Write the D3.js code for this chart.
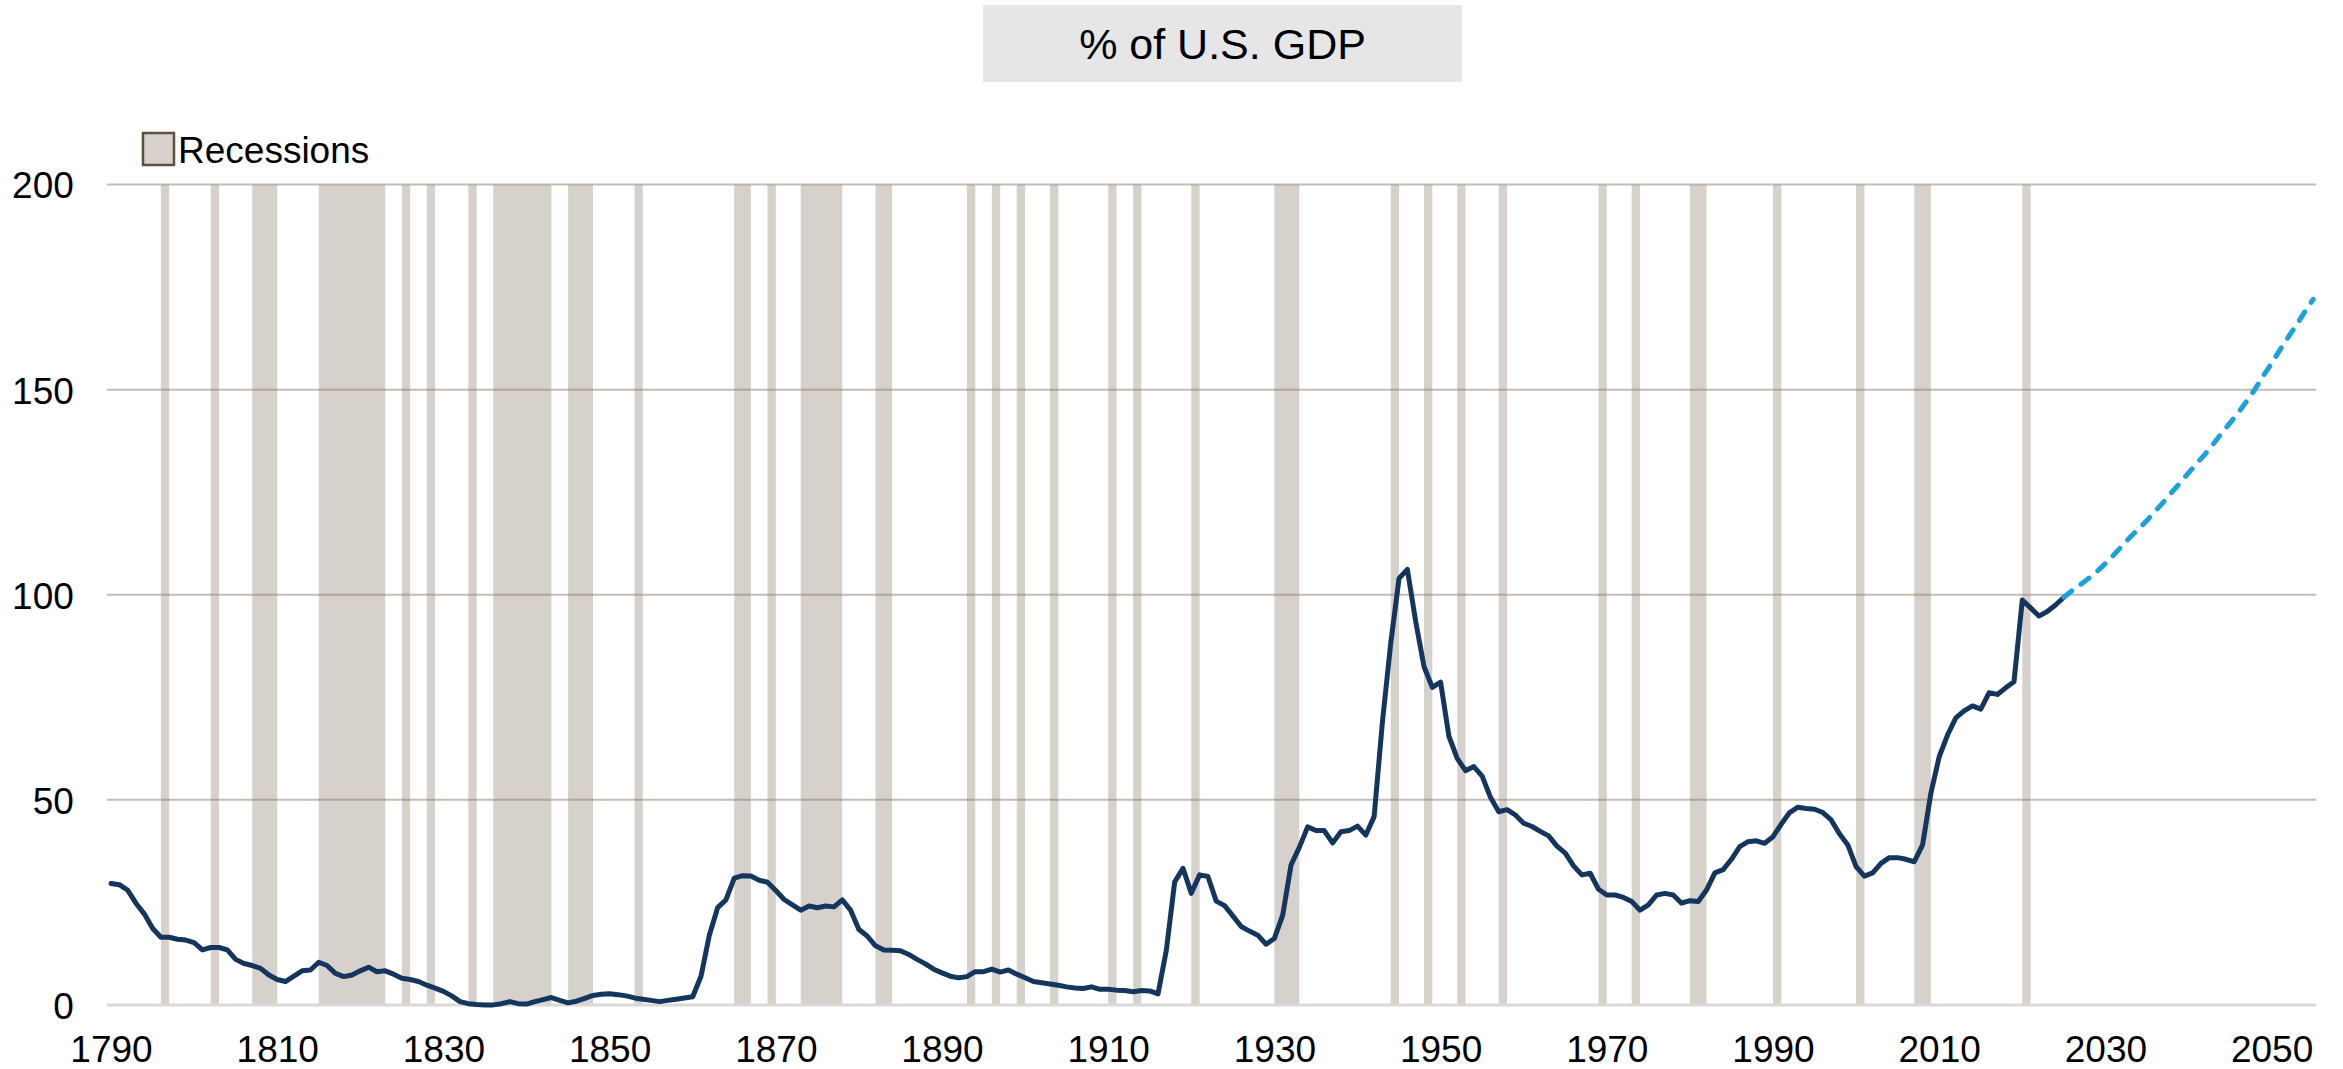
<!DOCTYPE html>
<html>
<head>
<meta charset="utf-8">
<title>% of U.S. GDP</title>
<script src="https://cdn.jsdelivr.net/npm/d3@7"></script>
<style>
  html, body { margin: 0; padding: 0; background: #ffffff; }
  svg { display: block; }
  text { font-family: "Liberation Sans", Arial, Helvetica, sans-serif; fill: #000; }
</style>
</head>
<body>
<svg id="chart" width="2343" height="1069"></svg>
<script>
// Federal debt held by the public, % of GDP (historical, annual)
const histStart = 1790;
const debtHistory = [
  29.6, 29.3, 28.0, 24.8, 22.2, 18.7, 16.5, 16.5, 16.0, 15.8,   // 1790s
  15.2, 13.4, 14.0, 14.0, 13.4, 11.1, 10.1, 9.6, 8.9, 7.3,      // 1800s
  6.2, 5.7, 7.0, 8.3, 8.5, 10.4, 9.6, 7.7, 6.9, 7.3,            // 1810s
  8.3, 9.2, 8.1, 8.3, 7.5, 6.5, 6.2, 5.7, 4.8, 4.1,             // 1820s
  3.3, 2.2, 0.8, 0.3, 0.1, 0.0, 0.0, 0.3, 0.8, 0.3,             // 1830s
  0.2, 0.8, 1.3, 1.8, 1.1, 0.5, 0.9, 1.6, 2.3, 2.6,             // 1840s
  2.7, 2.5, 2.2, 1.7, 1.4, 1.1, 0.8, 1.1, 1.4, 1.7,             // 1850s
  2.0, 7.0, 17.0, 23.7, 25.6, 30.9, 31.5, 31.4, 30.4, 29.9,     // 1860s
  27.9, 25.7, 24.4, 23.1, 24.1, 23.7, 24.1, 23.9, 25.6, 23.1,   // 1870s
  18.4, 16.8, 14.4, 13.4, 13.3, 13.2, 12.3, 11.1, 10.0, 8.7,    // 1880s
  7.8, 7.0, 6.6, 6.9, 8.1, 8.1, 8.7, 8.0, 8.5, 7.5,             // 1890s
  6.6, 5.7, 5.4, 5.1, 4.8, 4.4, 4.1, 4.0, 4.4, 3.8,             // 1900s
  3.8, 3.6, 3.5, 3.2, 3.5, 3.4, 2.7, 13.4, 30.0, 33.3,          // 1910s
  27.2, 31.7, 31.3, 25.3, 24.2, 21.7, 19.1, 18.0, 17.0, 14.8,   // 1920s
  16.2, 21.9, 34.1, 38.4, 43.4, 42.5, 42.5, 39.5, 42.2, 42.5,   // 1930s
  43.6, 41.4, 45.9, 69.0, 88.2, 104.0, 106.2, 93.5, 82.5, 77.4, // 1940s
  78.7, 65.5, 60.1, 57.1, 58.1, 55.8, 50.6, 47.1, 47.6, 46.3,   // 1950s
  44.3, 43.5, 42.3, 41.2, 38.7, 37.0, 33.9, 31.7, 32.1, 28.2,   // 1960s
  26.8, 26.8, 26.2, 25.2, 23.1, 24.4, 26.8, 27.2, 26.8, 24.8,   // 1970s
  25.4, 25.2, 28.0, 32.2, 33.0, 35.5, 38.6, 39.8, 40.0, 39.4,   // 1980s
  41.0, 44.1, 46.9, 48.2, 47.9, 47.7, 46.9, 45.1, 41.7, 39.0,   // 1990s
  33.7, 31.4, 32.2, 34.5, 35.9, 35.9, 35.5, 34.9, 39.0, 51.6,   // 2000s
  60.5, 65.8, 70.0, 71.7, 72.9, 72.1, 76.1, 75.7, 77.3, 78.8,   // 2010s
  98.7, 96.8, 94.8, 95.9, 97.5, 99.4                            // 2020-2025
];

// Projected path, % of GDP
const projStart = 2025;
const debtProjection = [
  99.4, 101.0, 102.5, 104.0, 105.7, 107.6, 109.7, 111.9, 114.1, 116.1,
  118.1, 120.4, 122.6, 125.0, 127.3, 129.7, 132.0, 134.3, 136.8, 139.4,
  141.9, 144.4, 147.2, 150.1, 153.4, 156.4, 159.7, 162.8, 165.8, 169.0,
  172.0
];

// Years with a recession (each shaded band spans one year)
const recessionYears = [
  1796, 1802, 1807, 1808, 1809, 1815, 1816, 1817, 1818, 1819, 1820, 1821, 1822,
  1825, 1828, 1833, 1836, 1837, 1838, 1839, 1840, 1841, 1842, 1845, 1846, 1847,
  1853, 1865, 1866, 1869, 1873, 1874, 1875, 1876, 1877, 1882, 1883, 1893, 1896,
  1899, 1903, 1910, 1913, 1920, 1930, 1931, 1932, 1944, 1948, 1952, 1957, 1969,
  1973, 1980, 1981, 1990, 2000, 2007, 2008, 2020
];

const xTickYears = [1790, 1810, 1830, 1850, 1870, 1890, 1910, 1930, 1950, 1970, 1990, 2010, 2030, 2050];
const yTickValues = [0, 50, 100, 150, 200];

const titleText = "% of U.S. GDP";
const legendText = "Recessions";

// ---------- drawing ----------
const svg = d3.select("#chart");

const x = d3.scaleLinear().domain([1789.5, 2055.5]).range([106.85, 2317.3]);
const y = d3.scaleLinear().domain([0, 200]).range([1004.9, 184.6]);

// merge consecutive recession years into bands
const bands = [];
recessionYears.slice().sort((a, b) => a - b).forEach(yr => {
  const last = bands[bands.length - 1];
  if (last && yr === last.end) last.end = yr + 1;
  else bands.push({ start: yr, end: yr + 1 });
});

svg.append("g").attr("class", "recessions")
  .selectAll("rect").data(bands).join("rect")
  .attr("x", d => x(d.start))
  .attr("width", d => x(d.end) - x(d.start))
  .attr("y", y(200))
  .attr("height", y(0) - y(200))
  .attr("fill", "#d6d1cb");

// horizontal gridlines
svg.append("g").attr("class", "grid")
  .selectAll("line").data(yTickValues.filter(v => v > 0)).join("line")
  .attr("x1", x.range()[0]).attr("x2", x.range()[1] - 1)
  .attr("y1", d => y(d)).attr("y2", d => y(d))
  .attr("stroke", "#8c7b6b").attr("stroke-opacity", 0.5)
  .attr("stroke-width", 2);

// baseline
svg.append("line")
  .attr("x1", x.range()[0]).attr("x2", x.range()[1] - 1)
  .attr("y1", y(0)).attr("y2", y(0))
  .attr("stroke", "#d9d9d9").attr("stroke-width", 3);

// axes (labels only)
const yAxis = d3.axisLeft(y).tickValues(yTickValues).tickSize(0).tickPadding(33);
const gy = svg.append("g").attr("transform", `translate(${x.range()[0]},0)`).call(yAxis);
gy.select(".domain").remove();
gy.selectAll("text")
  .attr("font-family", "Liberation Sans, Arial, sans-serif")
  .attr("font-size", 37).attr("fill", "#000").attr("dy", "0.36em");

const xAxis = d3.axisBottom(x).tickValues(xTickYears).tickFormat(d3.format("d")).tickSize(0).tickPadding(30.7);
const gx = svg.append("g").attr("transform", `translate(0,${y(0)})`).call(xAxis);
gx.select(".domain").remove();
gx.selectAll("text")
  .attr("font-family", "Liberation Sans, Arial, sans-serif")
  .attr("font-size", 37).attr("fill", "#000");

// historical line and projection
const histData = debtHistory.map((v, i) => ({ year: histStart + i, value: v }));
const projData = debtProjection.map((v, i) => ({ year: projStart + i, value: v }));

const line = d3.line().x(d => x(d.year)).y(d => y(d.value));

svg.append("path").datum(histData)
  .attr("d", line)
  .attr("fill", "none")
  .attr("stroke", "#14365e")
  .attr("stroke-width", 5)
  .attr("stroke-linejoin", "round")
  .attr("stroke-linecap", "round");

svg.append("path").datum(projData)
  .attr("d", line)
  .attr("fill", "none")
  .attr("stroke", "#1ba1dd")
  .attr("stroke-width", 5)
  .attr("stroke-dasharray", "10 11.5")
  .attr("stroke-linecap", "round")
  .attr("stroke-linejoin", "round");

// title box
svg.append("rect")
  .attr("x", 983).attr("y", 5).attr("width", 479).attr("height", 77)
  .attr("fill", "#e6e6e6");
svg.append("text")
  .attr("x", 1222.5).attr("y", 59)
  .attr("text-anchor", "middle")
  .attr("font-size", 43).attr("fill", "#1a1a1a")
  .text(titleText);

// legend
svg.append("rect")
  .attr("x", 143).attr("y", 133).attr("width", 31).attr("height", 32)
  .attr("fill", "#d6d1cb").attr("stroke", "#5c513c").attr("stroke-width", 2.5);
svg.append("text")
  .attr("x", 178).attr("y", 163)
  .attr("font-size", 37).attr("fill", "#000")
  .text(legendText);
</script>
</body>
</html>
